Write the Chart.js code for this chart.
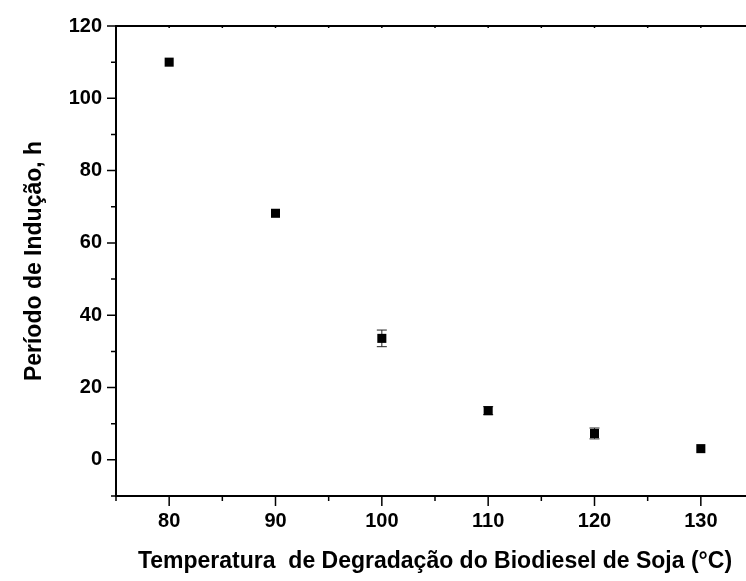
<!DOCTYPE html>
<html><head><meta charset="utf-8">
<script src="https://cdn.jsdelivr.net/npm/chart.js@4/dist/chart.umd.min.js"></script>
<style>html,body{margin:0;padding:0;overflow:hidden;background:#fff}
#wrap{position:absolute;left:0;top:0;width:762px;height:581px}</style>
</head><body><div id="wrap"><canvas id="c"></canvas></div>
<script>
const temperatures = [80, 90, 100, 110, 120, 130];
const inductionPeriod = [110, 68.2, 33.6, 13.6, 7.3, 3.1];
const errors = [0, 0, 2.3, 1.1, 1.5, 0];
const xMajorTicks = [80, 90, 100, 110, 120, 130];
const xMinorTicks = [75, 85, 95, 105, 115, 125, 135];
const yMajorTicks = [0, 20, 40, 60, 80, 100, 120];
const yMinorTicks = [-10, 10, 30, 50, 70, 90, 110];
const xTitle = 'Temperatura  de Degradação do Biodiesel de Soja (°C)';
const yTitle = 'Período de Indução, h';

const FONT = '"Liberation Sans", Arial, sans-serif';

const errorBars = {
  id: 'errorBars',
  beforeDatasetsDraw(chart) {
    const {ctx, scales: {x, y}} = chart;
    ctx.save();
    ctx.strokeStyle = '#222';
    ctx.lineWidth = 1;
    temperatures.forEach((t, i) => {
      const e = errors[i];
      if (!e) return;
      const px = x.getPixelForValue(t);
      const top = y.getPixelForValue(inductionPeriod[i] + e);
      const bot = y.getPixelForValue(inductionPeriod[i] - e);
      ctx.beginPath();
      ctx.moveTo(px, top); ctx.lineTo(px, bot);
      ctx.moveTo(px - 5, top); ctx.lineTo(px + 5, top);
      ctx.moveTo(px - 5, bot); ctx.lineTo(px + 5, bot);
      ctx.stroke();
    });
    ctx.restore();
  }
};

const frame = {
  id: 'frame',
  afterDraw(chart) {
    const {ctx, chartArea: a, scales: {x, y}} = chart;
    ctx.save();
    ctx.strokeStyle = '#000';
    ctx.lineWidth = 2;
    ctx.beginPath();
    ctx.moveTo(a.left, a.top - 1); ctx.lineTo(a.left, a.bottom + 1);
    ctx.moveTo(a.left - 1, a.bottom); ctx.lineTo(a.right + 1, a.bottom);
    ctx.moveTo(a.left - 1, a.top); ctx.lineTo(a.right + 1, a.top);
    ctx.moveTo(a.right, a.top - 1); ctx.lineTo(a.right, a.bottom + 1);
    ctx.stroke();
    ctx.lineWidth = 1.5;
    ctx.beginPath();
    xMajorTicks.forEach(v => { const p = x.getPixelForValue(v); ctx.moveTo(p, a.bottom); ctx.lineTo(p, a.bottom + 10); ctx.moveTo(p, a.top); ctx.lineTo(p, a.top + 2); });
    xMinorTicks.forEach(v => { const p = x.getPixelForValue(v); ctx.moveTo(p, a.bottom); ctx.lineTo(p, a.bottom + 5); ctx.moveTo(p, a.top); ctx.lineTo(p, a.top + 2); });
    yMajorTicks.forEach(v => { const p = y.getPixelForValue(v); ctx.moveTo(a.left, p); ctx.lineTo(a.left - 9, p); });
    yMinorTicks.forEach(v => { const p = y.getPixelForValue(v); ctx.moveTo(a.left, p); ctx.lineTo(a.left - 5, p); });
    ctx.stroke();
    ctx.restore();
  }
};

new Chart(document.getElementById('c'), {
  type: 'scatter',
  data: {
    datasets: [{
      data: temperatures.map((t, i) => ({x: t, y: inductionPeriod[i]})),
      pointStyle: 'rect',
      pointRadius: 6.4,
      pointHoverRadius: 6.4,
      backgroundColor: '#000',
      borderColor: '#000',
      borderWidth: 0,
      showLine: false
    }]
  },
  options: {
    responsive: true,
    maintainAspectRatio: false,
    animation: false,
    layout: {padding: {top: 20, right: 8, bottom: 0, left: 0}},
    plugins: {legend: {display: false}, tooltip: {enabled: false}},
    scales: {
      x: {
        type: 'linear', min: 75, max: 135,
        grid: {display: false, drawTicks: false}, border: {display: false},
        afterBuildTicks: s => { s.ticks = xMajorTicks.map(v => ({value: v})); },
        afterFit: s => { s.height = 85; },
        ticks: {padding: 13, color: '#000', font: {family: FONT, size: 20, weight: 'bold'}, maxRotation: 0, autoSkip: false},
        title: {display: true, text: xTitle, color: '#000', padding: {top: 0, bottom: 6}, font: {family: FONT, size: 23, weight: 'bold'}}
      },
      y: {
        type: 'linear', min: -10, max: 120,
        grid: {display: false, drawTicks: false}, border: {display: false},
        afterBuildTicks: s => { s.ticks = yMajorTicks.map(v => ({value: v})); },
        afterFit: s => { s.width = 116; },
        ticks: {padding: 14, color: '#000', font: {family: FONT, size: 20, weight: 'bold'}, autoSkip: false},
        title: {display: true, text: yTitle, color: '#000', padding: {top: 21, bottom: 0}, font: {family: FONT, size: 23, weight: 'bold'}}
      }
    }
  },
  plugins: [errorBars, frame]
});
</script></body></html>
